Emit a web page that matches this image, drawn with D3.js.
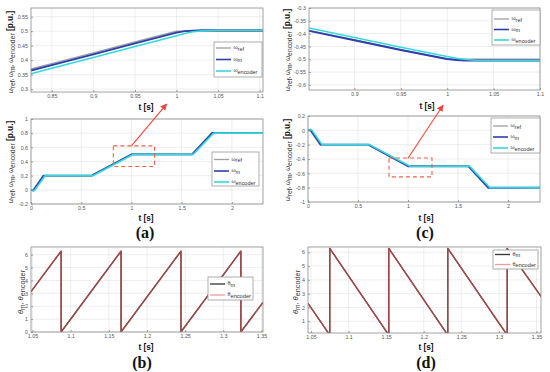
<!DOCTYPE html>
<html><head><meta charset="utf-8">
<script src="https://cdn.jsdelivr.net/npm/d3@7"></script>
<style>body{margin:0;background:#fff}svg{display:block}</style>
</head><body>
<svg id="c" width="550" height="372"></svg>
<script>
// ---------- DATA ----------
// (a) zoomed speed
const tA1   = [0.825,0.85,0.9,0.95,1.0,1.01,1.02,1.03,1.05,1.08,1.104];
const refA1 = [0.369,0.388,0.425,0.463,0.5,0.5,0.5,0.5,0.5,0.5,0.5];
const mA1   = [0.364,0.383,0.420,0.458,0.495,0.500,0.502,0.503,0.503,0.503,0.503];
const encA1 = [0.353,0.372,0.409,0.447,0.484,0.492,0.498,0.501,0.503,0.503,0.503];
// (a) full speed
const tRefA2 = [0,0.02,0.12,0.6,1.0,1.6,1.8,2.31];
const refA2  = [0,0,0.2,0.2,0.5,0.5,0.8,0.8];
const tMA2   = [0,0.025,0.128,0.605,1.005,1.605,1.805,2.31];
const mA2    = [0,-0.01,0.2,0.2,0.502,0.5,0.802,0.8];
const tEncA2 = [0,0.035,0.14,0.615,1.02,1.615,1.82,2.31];
const encA2  = [0,-0.01,0.2,0.2,0.502,0.5,0.802,0.8];
// (c) zoomed speed
const tC1   = [0.851,0.9,0.95,1.0,1.01,1.02,1.03,1.05,1.1];
const refC1 = [-0.388,-0.425,-0.463,-0.5,-0.5,-0.5,-0.5,-0.5,-0.5];
const mC1   = [-0.389,-0.426,-0.464,-0.499,-0.503,-0.505,-0.505,-0.505,-0.505];
const encC1 = [-0.378,-0.415,-0.453,-0.489,-0.496,-0.501,-0.504,-0.505,-0.505];
// (c) full speed
const tRefC2 = [0,0.02,0.12,0.6,1.0,1.6,1.8,2.32];
const refC2  = [0,0,-0.2,-0.2,-0.5,-0.5,-0.8,-0.8];
const tMC2   = [0,0.025,0.128,0.605,1.005,1.605,1.805,2.32];
const mC2    = [0,0.01,-0.2,-0.2,-0.502,-0.5,-0.802,-0.8];
const tEncC2 = [0,0.035,0.14,0.615,1.02,1.615,1.82,2.32];
const encC2  = [0,0.01,-0.2,-0.2,-0.502,-0.5,-0.802,-0.8];
// (b) rotor angle, positive speed
const tB     = [1.048,1.0875,1.0875,1.166,1.166,1.2445,1.2445,1.323,1.323,1.352];
const thB    = [3.14,6.28,0,6.28,0,6.28,0,6.28,0,2.3];
// (d) rotor angle, negative speed
const tD     = [1.046,1.075,1.075,1.1535,1.1535,1.232,1.232,1.311,1.311,1.356];
const thD    = [2.3,0,6.28,0,6.28,0,6.28,0,6.28,2.8];
// ticks
const xtA1 = [0.85,0.9,0.95,1,1.05,1.1];
const ytA1 = [0.3,0.35,0.4,0.45,0.5,0.55];
const xtFull = [0,0.5,1,1.5,2];
const ytA2 = [-0.2,0,0.2,0.4,0.6,0.8,1];
const xtC1 = [0.9,0.95,1,1.05,1.1];
const ytC1 = [-0.6,-0.55,-0.5,-0.45,-0.4,-0.35,-0.3];
const ytC2 = [-1,-0.8,-0.6,-0.4,-0.2,0,0.2];
const xtTh = [1.05,1.1,1.15,1.2,1.25,1.3,1.35];
const ytB  = [0,1,2,3,4,5,6];
const ytD  = [1,2,3,4,5,6];
// zoom boxes (data coords of full plots) and arrows
const boxA = {t:[0.82,1.23], v:[0.33,0.62]};
const arrA = {t:[1.0,1.35], v:[0.62,1.21]};
const boxC = {t:[0.81,1.24], v:[-0.65,-0.386]};
const arrC = {t:[1.0,1.35], v:[-0.39,0.35]};

// ---------- DRAW ----------
const svg = d3.select('#c');
const defs = svg.append('defs');
defs.append('marker').attr('id','ah').attr('viewBox','0 0 10 10').attr('refX',9).attr('refY',5)
  .attr('markerWidth',6).attr('markerHeight',6).attr('orient','auto')
  .append('path').attr('d','M0,0 L10,5 L0,10 z').attr('fill','#f2463a');

const FONT = 'Liberation Sans, Arial, sans-serif';
const C = {ref:'#9e9e9e', m:'#2d3fae', enc:'#33d9dd', thm:'#222', the:'rgba(232,84,84,0.72)'};
let clipId = 0;
function panel(o){
  const g = svg.append('g');
  const x = d3.scaleLinear().domain(o.xd).range([o.x0,o.x1]);
  const y = d3.scaleLinear().domain(o.yd).range([o.y1,o.y0]);
  g.append('rect').attr('x',o.x0).attr('y',o.y0).attr('width',o.x1-o.x0).attr('height',o.y1-o.y0).attr('fill','#fff');
  g.selectAll('.gx').data(o.xt).enter().append('line').attr('x1',d=>x(d)).attr('x2',d=>x(d))
    .attr('y1',o.y0).attr('y2',o.y1).attr('stroke','#e3e3e3').attr('stroke-width',0.6);
  g.selectAll('.gy').data(o.yt).enter().append('line').attr('y1',d=>y(d)).attr('y2',d=>y(d))
    .attr('x1',o.x0).attr('x2',o.x1).attr('stroke','#e3e3e3').attr('stroke-width',0.6);
  const id = 'cl'+(clipId++);
  defs.append('clipPath').attr('id',id).append('rect').attr('x',o.x0).attr('y',o.y0)
    .attr('width',o.x1-o.x0).attr('height',o.y1-o.y0);
  const pg = g.append('g').attr('clip-path',`url(#${id})`);
  o.series.forEach(s=>{
    const pts = s.t.map((t,i)=>[t,s.v[i]]);
    pg.append('path').attr('d',d3.line().x(d=>x(d[0])).y(d=>y(d[1]))(pts))
      .attr('fill','none').attr('stroke',s.c).attr('stroke-width',s.w).attr('stroke-linejoin','round');
  });
  const fmt = d=>String(d);
  const ax = g.append('g').attr('transform',`translate(0,${o.y1})`)
    .call(d3.axisBottom(x).tickValues(o.xt).tickSizeInner(-2).tickSizeOuter(0).tickPadding(2.5).tickFormat(fmt));
  const ay = g.append('g').attr('transform',`translate(${o.x0},0)`)
    .call(d3.axisLeft(y).tickValues(o.yt).tickSizeInner(-2).tickSizeOuter(0).tickPadding(3).tickFormat(fmt));
  [ax,ay].forEach(a=>{
    a.select('.domain').remove();
    a.selectAll('line').attr('stroke','#666').attr('stroke-width',0.6);
    a.selectAll('text').attr('font-family',FONT).attr('font-size',5.3).attr('fill','#555');
  });
  g.append('rect').attr('x',o.x0).attr('y',o.y0).attr('width',o.x1-o.x0).attr('height',o.y1-o.y0)
    .attr('fill','none').attr('stroke','#8a8a8a').attr('stroke-width',0.8);
  return {x,y,g};
}

function legendBox(L){
  const g = svg.append('g');
  g.append('rect').attr('x',L.x0).attr('y',L.y0).attr('width',L.x1-L.x0).attr('height',L.y1-L.y0)
    .attr('fill','#fff').attr('stroke','#9a9a9a').attr('stroke-width',0.8);
  L.items.forEach((it,i)=>{
    const yy = L.ys[i];
    const fs = it.fs||5.2;
    g.append('line').attr('x1',L.x0+2).attr('x2',L.x0+17).attr('y1',yy).attr('y2',yy)
      .attr('stroke',it.c).attr('stroke-width',it.w);
    const t = g.append('text').attr('x',L.x0+19.5).attr('y',yy+1).attr('font-family',FONT)
      .attr('font-size',fs).attr('fill','#333');
    t.append('tspan').text(it.sym);
    t.append('tspan').attr('dy',1.8).attr('font-size',fs*1.05).text(it.sub);
  });
}

function ylabelOmega(xp, yp){
  const t = svg.append('text').attr('transform',`translate(${xp},${yp}) rotate(-90)`)
    .attr('text-anchor','middle').attr('font-family',FONT).attr('fill','#333').attr('font-size',6.3);
  t.append('tspan').text('ω');
  t.append('tspan').attr('dy',2).attr('font-size',6.8).text('ref');
  t.append('tspan').attr('dy',-2).text(', ω');
  t.append('tspan').attr('dy',2).attr('font-size',6.8).text('m');
  t.append('tspan').attr('dy',-2).text(', ω');
  t.append('tspan').attr('dy',2).attr('font-size',6.8).text('encoder');
  t.append('tspan').attr('dy',-2).attr('font-size',8.3).attr('font-weight','bold').attr('fill','#111').text(' [p.u.]');
}
function ylabelTheta(xp, yp){
  const t = svg.append('text').attr('transform',`translate(${xp},${yp}) rotate(-90)`)
    .attr('text-anchor','middle').attr('font-family',FONT).attr('fill','#333').attr('font-size',7.5);
  t.append('tspan').attr('font-style','italic').text('θ');
  t.append('tspan').attr('dy',2).attr('font-size',6.5).text('m');
  t.append('tspan').attr('dy',-2).text(', ');
  t.append('tspan').attr('font-style','italic').text('θ');
  t.append('tspan').attr('dy',2).attr('font-size',7.3).text('encoder');
}
function xlabel(xp, yp){
  svg.append('text').attr('x',xp).attr('y',yp).attr('text-anchor','middle')
    .attr('font-family',FONT).attr('font-weight','bold').attr('font-size',8.3).attr('fill','#111').text('t [s]');
}
function caption(xp, yp, s){
  svg.append('text').attr('x',xp).attr('y',yp).attr('text-anchor','middle')
    .attr('font-family','Liberation Serif, Times New Roman, serif').attr('font-weight','bold').attr('font-size',16).attr('fill','#111').text(s);
}
function zoomMark(P, box, arr){
  const g = svg.append('g');
  g.append('rect').attr('x',P.x(box.t[0])).attr('y',P.y(box.v[1]))
    .attr('width',P.x(box.t[1])-P.x(box.t[0])).attr('height',P.y(box.v[0])-P.y(box.v[1]))
    .attr('fill','none').attr('stroke','#f2604e').attr('stroke-width',1.1).attr('stroke-dasharray','4,3');
  g.append('line').attr('x1',P.x(arr.t[0])).attr('y1',P.y(arr.v[0])).attr('x2',P.x(arr.t[1])).attr('y2',P.y(arr.v[1]))
    .attr('stroke','#f2463a').attr('stroke-width',1.1).attr('marker-end','url(#ah)');
}

const omegaSeries = (tr,r,tm,m,te,e)=>[
  {t:tr,v:r,c:C.ref,w:1.5},{t:tm,v:m,c:C.m,w:1.9},{t:te,v:e,c:C.enc,w:1.6}];
const omegaLegend = [{sym:'ω',sub:'ref',c:C.ref,w:1.3},{sym:'ω',sub:'m',c:C.m,w:1.6},{sym:'ω',sub:'encoder',c:C.enc,w:1.6}];
const thetaLegend = [{sym:'θ',sub:'m',c:'#333',w:1.3,fs:5.4},{sym:'θ',sub:'encoder',c:'#f29a9a',w:1.3,fs:5.4}];

// (a) top
panel({x0:31,x1:263,y0:8,y1:92,xd:[0.825,1.104],yd:[0.29,0.58],xt:xtA1,yt:ytA1,
  series:omegaSeries(tA1,refA1,tA1,mA1,tA1,encA1)});
legendBox({x0:214,x1:262,y0:42,y1:77,ys:[48,59.5,71],items:omegaLegend});
ylabelOmega(13,52); xlabel(146,110);
// (a) bottom
const PA = panel({x0:31,x1:263,y0:119,y1:204,xd:[0,2.31],yd:[-0.2,1],xt:xtFull,yt:ytA2,
  series:omegaSeries(tRefA2,refA2,tMA2,mA2,tEncA2,encA2)});
legendBox({x0:212,x1:259,y0:152,y1:186,ys:[159.5,171,182],items:omegaLegend});
ylabelOmega(13,162); xlabel(146,221);
zoomMark(PA, boxA, arrA);
caption(145,238,'(a)');
// (b)
panel({x0:31,x1:263,y0:247,y1:332,xd:[1.048,1.352],yd:[0,6.6],xt:xtTh,yt:ytB,
  series:[{t:tB,v:thB,c:C.thm,w:1.4},{t:tB,v:thB,c:C.the,w:1.2}]});
legendBox({x0:208,x1:253,y0:277,y1:300,ys:[284,295],items:thetaLegend});
ylabelTheta(23,292); xlabel(146,350);
caption(142,368,'(b)');
// (c) top
panel({x0:309,x1:540,y0:8,y1:90,xd:[0.851,1.1],yd:[-0.62,-0.3],xt:xtC1,yt:ytC1,
  series:omegaSeries(tC1,refC1,tC1,mC1,tC1,encC1)});
legendBox({x0:492,x1:540,y0:10,y1:45,ys:[19,29.5,40],items:omegaLegend});
ylabelOmega(290,50); xlabel(427,109);
// (c) bottom
const PC = panel({x0:308,x1:540,y0:116,y1:202,xd:[0,2.32],yd:[-1,0.2],xt:xtFull,yt:ytC2,
  series:omegaSeries(tRefC2,refC2,tMC2,mC2,tEncC2,encC2)});
legendBox({x0:491,x1:540,y0:118,y1:153,ys:[126,137,148],items:omegaLegend});
ylabelOmega(290,160); xlabel(426,221);
zoomMark(PC, boxC, arrC);
caption(425,238,'(c)');
// (d)
panel({x0:308,x1:541,y0:247,y1:333,xd:[1.046,1.356],yd:[0.15,6.38],xt:xtTh,yt:ytD,
  series:[{t:tD,v:thD,c:C.thm,w:1.4},{t:tD,v:thD,c:C.the,w:1.2}]});
legendBox({x0:493,x1:538,y0:250,y1:269,ys:[254.5,264.5],items:thetaLegend});
ylabelTheta(298,292); xlabel(426,350);
caption(426,368,'(d)');
</script>
</body></html>
